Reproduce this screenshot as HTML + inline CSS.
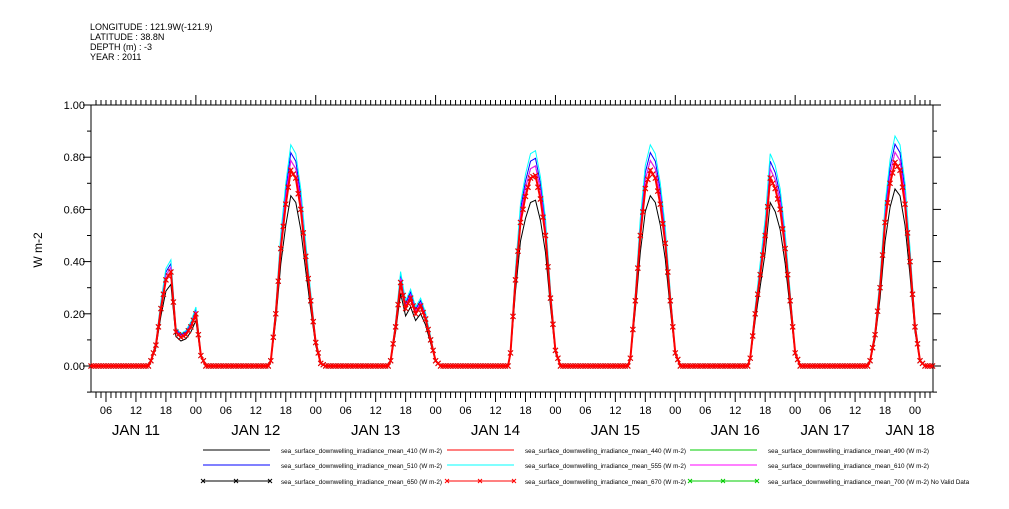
<!DOCTYPE html>
<html><head><meta charset="utf-8"><style>
body{margin:0;background:#fff;}
svg text{font-family:"Liberation Sans",sans-serif;}
</style></head><body>
<svg id="chart" width="1009" height="504" xmlns="http://www.w3.org/2000/svg">
<g font-size="9" fill="#000">
<text x="90" y="30">LONGITUDE : 121.9W(-121.9)</text>
<text x="90" y="40">LATITUDE : 38.8N</text>
<text x="90" y="50">DEPTH (m) : -3</text>
<text x="90" y="60">YEAR : 2011</text>
</g>
<g id="axes"></g>
<g id="plot"></g>
<g id="legend"></g>
</svg>
<script>
// hours since JAN 10 00:00 for the start of each daylight period
const dayStarts = [15, 39, 63, 87, 111, 135, 159];
// hourly irradiance (670 nm reference) from hour 15 through 02 of next day
const dayValues = [
 [0.02,0.08,0.22,0.33,0.36,0.13,0.11,0.12,0.15,0.2,0.04,0],
 [0.02,0.2,0.45,0.62,0.75,0.72,0.6,0.42,0.25,0.09,0.01,0],
 [0.02,0.15,0.32,0.22,0.26,0.2,0.23,0.18,0.1,0.02,0,0],
 [0.05,0.33,0.55,0.65,0.72,0.73,0.64,0.5,0.26,0.06,0,0],
 [0.03,0.25,0.5,0.68,0.75,0.72,0.62,0.47,0.25,0.05,0,0],
 [0.03,0.2,0.35,0.5,0.72,0.68,0.6,0.45,0.25,0.05,0,0],
 [0.02,0.12,0.3,0.55,0.7,0.78,0.75,0.62,0.4,0.15,0.02,0]
];
const seriesNames = ["410","440","490","510","555","610","650","670","700"];
const seriesScale = [0.87,1.0,1.05,1.09,1.13,1.05,1.0,1.0,0];
const seriesColors = ["#000","#f00","#0c0","#00f","#0ff","#f0f","#000","#f00","#0c0"];
const yTicks = [0,0.2,0.4,0.6,0.8,1.0];
const xHourLabels = ["06","12","18","00"];
const dayLabels = ["JAN 11","JAN 12","JAN 13","JAN 14","JAN 15","JAN 16","JAN 17","JAN 18"];

const NS="http://www.w3.org/2000/svg";
const L=91,R=933,T=105,B=392;
const H0=3,H1=171.6;
const X=h=>L+(h-H0)*(R-L)/(H1-H0);
const Y=v=>366-v*261/1.0;
function mk(tag,attrs,parent){const e=document.createElementNS(NS,tag);for(const k in attrs)e.setAttribute(k,attrs[k]);parent.appendChild(e);return e;}
const axes=document.getElementById('axes'),plot=document.getElementById('plot'),leg=document.getElementById('legend');

const frame=mk('rect',{x:L,y:T,width:R-L,height:B-T,fill:'none',stroke:'#000','stroke-width':1},axes);


yTicks.forEach(v=>{
 const t=mk('line',{x1:L-8,x2:L,y1:Y(v),y2:Y(v),stroke:'#000'},axes);
 
 
 const t2=mk('line',{x1:R,x2:R+8,y1:Y(v),y2:Y(v),stroke:'#000'},axes);
 
 
 const lb=mk('text',{x:L-6,y:Y(v)+4,'text-anchor':'end','font-size':11},axes);
 lb.textContent=v.toFixed(2);
 
 
});
[0.1,0.3,0.5,0.7,0.9,-0.1].forEach(v=>{
 const t=mk('line',{x1:L-4,x2:L,y1:Y(v),y2:Y(v),stroke:'#000'},axes);
 
 
 const t2=mk('line',{x1:R,x2:R+4,y1:Y(v),y2:Y(v),stroke:'#000'},axes);
 
 
});
const yt=mk('text',{x:42,y:250,'font-size':12,transform:'rotate(-90 42 250)','text-anchor':'middle'},axes);
yt.textContent='W m-2';


for(let h=4;h<=171;h++){
 const x=X(h),maj=h%6===0;
 const tb=mk('line',{x1:x,x2:x,y1:B,y2:B+(maj?10:6),stroke:'#000'},axes);
 
 
 const tt=mk('line',{x1:x,x2:x,y1:T,y2:T-(h%24===0?10:5),stroke:'#000'},axes);
 
 
 if(maj){
  const lb=mk('text',{x:x,y:B+22,'text-anchor':'middle','font-size':11},axes);
  lb.textContent=xHourLabels[(h/6+3)%4];
  
  
 }
}
dayLabels.forEach((d,i)=>{
 const h=i<7?12+24*i:H1-3;
 const cx=i<6?X(h):(i===6?X(150):X(167));
 const lb=mk('text',{x:cx,y:B+43,'text-anchor':'middle','font-size':15},axes);
 lb.textContent=d;
 
 
});

function valueAt(h){
 let v=0;
 dayStarts.forEach((s,di)=>{const k=h-s;if(k>=0&&k<=11){const a=Math.floor(k),b=Math.min(a+1,11);v=dayValues[di][a]+(dayValues[di][b]-dayValues[di][a])*(k-a);}});
 return v;
}

// series
seriesNames.forEach((n,si)=>{
 if(seriesScale[si]===0)return;
 const pts=[[H0,0]];
 dayStarts.forEach((s,di)=>{
  pts.push([s-0.5,0]);
  dayValues[di].forEach((v,k)=>pts.push([s+k,v*seriesScale[si]]));
 });
 pts.push([H1,0]);
 const d=pts.map((p,i)=>(i?'L':'M')+X(p[0]).toFixed(1)+','+Y(p[1]).toFixed(1)).join('');
 const w=(si===7)?2:1;
 const pl=mk('path',{d:d,fill:'none',stroke:seriesColors[si],'stroke-width':w},plot);
 
 
 if(si>=6){
  const g=mk('g',{stroke:seriesColors[si],'stroke-width':1},plot);
  
  
  for(let h=H0;h<=H1;h+=0.5){
   const v=valueAt(h)*seriesScale[si];
   const x=X(h),y=Y(v);
   mk('path',{d:`M${x-2.5},${y-2.5}L${x+2.5},${y+2.5}M${x-2.5},${y+2.5}L${x+2.5},${y-2.5}`},g);
  }
 }
});

// legend
const colX=[203,447,690],rowY=[450,465,481];
seriesNames.forEach((n,si)=>{
 const c=si%3,r=Math.floor(si/3);
 const g=mk('g',{},leg);
 
 
 mk('line',{x1:colX[c],x2:colX[c]+67,y1:rowY[r],y2:rowY[r],stroke:seriesColors[si]},g);
 if(si>=6){[0,33,67].forEach(o=>{const x=colX[c]+o,y=rowY[r];mk('path',{d:`M${x-2},${y-2}L${x+2},${y+2}M${x-2},${y+2}L${x+2},${y-2}`,stroke:seriesColors[si]},g);});}
 const t=mk('text',{x:colX[c]+78,y:rowY[r]+3,'font-size':6.3},g);
 t.textContent='sea_surface_downwelling_irradiance_mean_'+n+' (W m-2)'+(si===8?' No Valid Data':'');
});
</script>
</body></html>
